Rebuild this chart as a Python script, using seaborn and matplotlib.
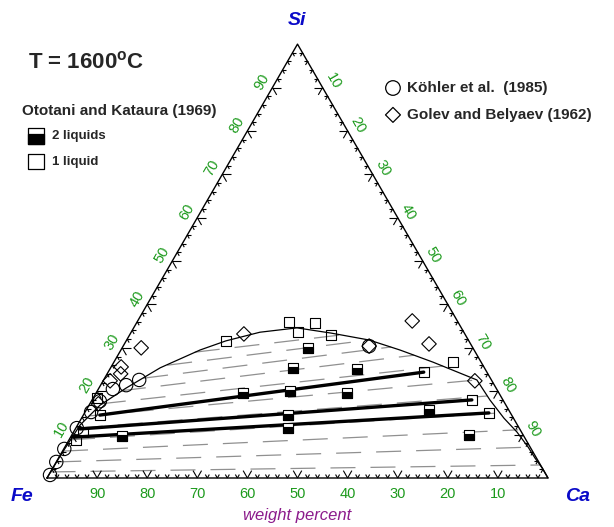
import numpy as np
import pandas as pd
import matplotlib
matplotlib.use("Agg")
import matplotlib.pyplot as plt
from matplotlib.collections import LineCollection
from matplotlib.path import Path
import seaborn as sns

sns.set_theme(style="white")
plt.rcParams["font.family"] = ["Liberation Sans", "DejaVu Sans"]
plt.rcParams["mathtext.fontset"] = "custom"
plt.rcParams["mathtext.rm"] = "Liberation Sans"
plt.rcParams["mathtext.bf"] = "Liberation Sans:bold"

# ---- compositions in wt% (Si, Ca); Fe is the balance ----
# miscibility-gap boundary
curve_si = [0, 5.3, 12.2, 16.8, 20.7, 25.4, 29.5, 31.6, 33.6, 34.6, 33.4, 31.8,
            29.5, 26.7, 22.6, 18.0, 13.8, 10.6, 7.1, 4.6, 2.3, 0]
curve_ca = [0, 0.1, 0.5, 2.2, 5.4, 9.9, 15.8, 19.9, 25.7, 32.6, 40.0, 48.4,
            55.7, 63.7, 74.5, 79.4, 84.3, 88.5, 92.5, 95.1, 97.7, 100]

# estimated tie lines (dashed)
tie_left_si = [1.4, 3.7, 6.2, 8.8, 11.5, 14.3, 17.1, 20.1, 23.0, 26.0, 29.0]
tie_left_ca = [0.0, 0.0, 0.1, 0.2, 0.4, 1.2, 2.2, 4.7, 7.7, 11.0, 15.0]
tie_right_si = [3.0, 7.1, 11.1, 15.0, 18.9, 22.6, 25.8, 28.3, 30.2, 31.8, 33.0]
tie_right_ca = [96.9, 92.5, 88.5, 82.9, 78.4, 74.5, 66.1, 59.1, 53.6, 48.4, 42.4]

# measured tie lines (solid)
thick_left_si = [14.5, 11.3, 9.4]
thick_left_ca = [3.3, 0.9, 0.5]
thick_right_si = [24.4, 18.0, 15.0]
thick_right_ca = [63.0, 75.8, 80.7]

# Ototani and Kataura (1969)
one_liquid_si = [36.0, 35.7, 33.6, 33.0, 31.6, 26.7, 24.4, 18.0, 15.0, 14.5, 8.8, 10.6, 18.4]
one_liquid_ca = [30.3, 35.6, 33.3, 40.2, 19.9, 67.7, 63.0, 75.8, 80.7, 3.3, 1.4, 1.9, 0.8]
two_liquid_si = [30.0, 25.4, 25.1, 19.6, 20.1, 19.6, 14.5, 15.7, 11.5, 9.7, 9.9]
two_liquid_ca = [37.1, 36.4, 49.3, 29.3, 38.5, 50.1, 40.8, 68.4, 42.3, 10.2, 79.2]

# Köhler et al. (1985)
kohler_si = [0.7, 3.7, 6.7, 11.5, 15.2, 17.7, 20.5, 21.4, 22.6, 30.4]
kohler_ca = [0.25, 0.0, 0.1, 0.2, 1.2, 1.7, 2.9, 5.1, 7.1, 49.1]

# Golev and Belyaev (1962)
golev_si = [33.2, 30.0, 25.6, 24.0, 22.4, 36.2, 30.9, 22.4, 30.4, 17.1]
golev_ca = [22.7, 3.8, 2.0, 2.7, 1.4, 54.8, 60.8, 74.2, 49.1, 1.7]

axis_ticks = [10, 20, 30, 40, 50, 60, 70, 80, 90]

GREEN = "#1c9a1c"
BLUE = "#0a0ac8"
PURPLE = "#8b1a8b"
H = np.sqrt(3) / 2


def to_xy(si, ca):
    si = np.asarray(si, float) / 100.0
    ca = np.asarray(ca, float) / 100.0
    return ca + 0.5 * si, H * si


fig = plt.figure(figsize=(6.14, 5.27), dpi=100)
ax = fig.add_axes([0, 0, 1, 1])
ax.set_xlim(-47 / 501, 567 / 501)
ax.set_ylim(-49 / 501, 478 / 501)
ax.set_aspect("equal")
ax.axis("off")

# triangle frame
ax.plot([0, 1, 0.5, 0], [0, 0, H, 0], color="black", lw=1.0, zorder=3)

# ticks: each tick is a pair of short strokes along the two other edge directions
segs = []
d60 = np.array([0.5, H])
d120 = np.array([-0.5, H])
for v in range(2, 100, 2):
    L = 0.017 if v % 10 == 0 else 0.008
    f = v / 100.0
    # bottom edge (Fe axis)
    p = np.array([1 - f, 0.0])
    segs += [[p, p + L * d60], [p, p + L * d120]]
    # left edge (Si axis)
    p = np.array([0.5 * f, H * f])
    segs += [[p, p + L * np.array([1.0, 0.0])], [p, p + L * np.array([0.5, -H])]]
    # right edge (Ca axis)
    p = np.array([f + 0.5 * (1 - f), H * (1 - f)])
    segs += [[p, p + L * np.array([-1.0, 0.0])], [p, p + L * np.array([-0.5, -H])]]
ax.add_collection(LineCollection(segs, colors="black", linewidths=0.8, zorder=3))

# tick labels
off = 0.024
for v in axis_ticks:
    f = v / 100.0
    ax.text(1 - f, -0.031, str(v), color=GREEN, fontsize=10.5, ha="center", va="center")
    px, py = 0.5 * f - off * H, H * f + off * 0.5
    ax.text(px, py, str(v), color=GREEN, fontsize=10.5, ha="center", va="center", rotation=60)
    qx, qy = f + 0.5 * (1 - f) + off * H, H * (1 - f) + off * 0.5
    ax.text(qx, qy, str(v), color=GREEN, fontsize=10.5, ha="center", va="center", rotation=-60)

# miscibility gap boundary
cx, cy = to_xy(curve_si, curve_ca)
sns.lineplot(x=cx, y=cy, sort=False, estimator=None, color="black", lw=0.9, ax=ax, zorder=4)

# dashed tie lines
for lsi, lca, rsi, rca in zip(tie_left_si, tie_left_ca, tie_right_si, tie_right_ca):
    tx, ty = to_xy([lsi, rsi], [lca, rca])
    ax.plot(tx, ty, color="#909090", lw=0.9, dashes=(20, 12), zorder=2)

# solid tie lines
for lsi, lca, rsi, rca in zip(thick_left_si, thick_left_ca, thick_right_si, thick_right_ca):
    tx, ty = to_xy([lsi, rsi], [lca, rca])
    sns.lineplot(x=tx, y=ty, sort=False, estimator=None, color="black", lw=2.4, ax=ax, zorder=5)

# markers
lower_fill = Path([(-0.5, -0.5), (0.5, -0.5), (0.5, 0.15), (-0.5, 0.15), (-0.5, -0.5)],
                  [Path.MOVETO, Path.LINETO, Path.LINETO, Path.LINETO, Path.CLOSEPOLY])
SQ = 7.2
mx, my = to_xy(two_liquid_si, two_liquid_ca)
sns.scatterplot(x=mx, y=my, marker="s", s=SQ ** 2, facecolor="white", edgecolor="black",
                linewidth=0.8, ax=ax, zorder=6)
sns.scatterplot(x=mx, y=my, marker=lower_fill, s=SQ ** 2, color="black", edgecolor="black",
                linewidth=0.8, ax=ax, zorder=7)

mx, my = to_xy(one_liquid_si, one_liquid_ca)
sns.scatterplot(x=mx, y=my, marker="s", s=SQ ** 2, facecolor="none", edgecolor="black",
                linewidth=0.8, ax=ax, zorder=6)

mx, my = to_xy(kohler_si, kohler_ca)
sns.scatterplot(x=mx, y=my, marker="o", s=9.6 ** 2, facecolor="none", edgecolor="black",
                linewidth=0.8, ax=ax, zorder=6)

mx, my = to_xy(golev_si, golev_ca)
sns.scatterplot(x=mx, y=my, marker="D", s=7.4 ** 2, facecolor="none", edgecolor="black",
                linewidth=0.8, ax=ax, zorder=6)

# vertex labels
fig.text(0.4837, 0.962, "Si", color=BLUE, fontsize=14, fontweight="bold",
         fontstyle="italic", ha="center", va="center")
fig.text(0.036, 0.057, "Fe", color=BLUE, fontsize=14, fontweight="bold",
         fontstyle="italic", ha="center", va="center")
fig.text(0.94, 0.057, "Ca", color=BLUE, fontsize=14, fontweight="bold",
         fontstyle="italic", ha="center", va="center")
fig.text(0.4837, 0.021, "weight percent", color=PURPLE, fontsize=12,
         fontstyle="italic", ha="center", va="center")

# annotations and legends
fig.text(0.046, 0.882, r"T = 1600$^{\mathbf{o}}$C", fontsize=16, fontweight="bold",
         ha="left", va="center")
fig.text(0.036, 0.789, "Ototani and Kataura (1969)", fontsize=11, fontweight="bold",
         ha="left", va="center")
fig.text(0.085, 0.742, "2 liquids", fontsize=9.5, fontweight="bold", ha="left", va="center")
fig.text(0.085, 0.693, "1 liquid", fontsize=9.5, fontweight="bold", ha="left", va="center")
fig.text(0.663, 0.833, "Köhler et al.  (1985)", fontsize=11, fontweight="bold",
         ha="left", va="center")
fig.text(0.663, 0.782, "Golev and Belyaev (1962)", fontsize=11, fontweight="bold",
         ha="left", va="center")

LS = 11.0
ax.scatter([0.0586], [0.742], marker="s", s=LS ** 2, facecolor="white", edgecolor="black",
           linewidth=0.9, transform=fig.transFigure, zorder=8)
ax.scatter([0.0586], [0.742], marker=lower_fill, s=LS ** 2, color="black",
           linewidth=0.9, transform=fig.transFigure, zorder=9)
ax.scatter([0.0586], [0.693], marker="s", s=LS ** 2, facecolor="none", edgecolor="black",
           linewidth=0.9, transform=fig.transFigure, zorder=8)
ax.scatter([0.640], [0.833], marker="o", s=10.5 ** 2, facecolor="none", edgecolor="black",
           linewidth=0.9, transform=fig.transFigure, zorder=8)
ax.scatter([0.640], [0.782], marker="D", s=7.6 ** 2, facecolor="none", edgecolor="black",
           linewidth=0.9, transform=fig.transFigure, zorder=8)

fig.savefig("out.png", dpi=100)
